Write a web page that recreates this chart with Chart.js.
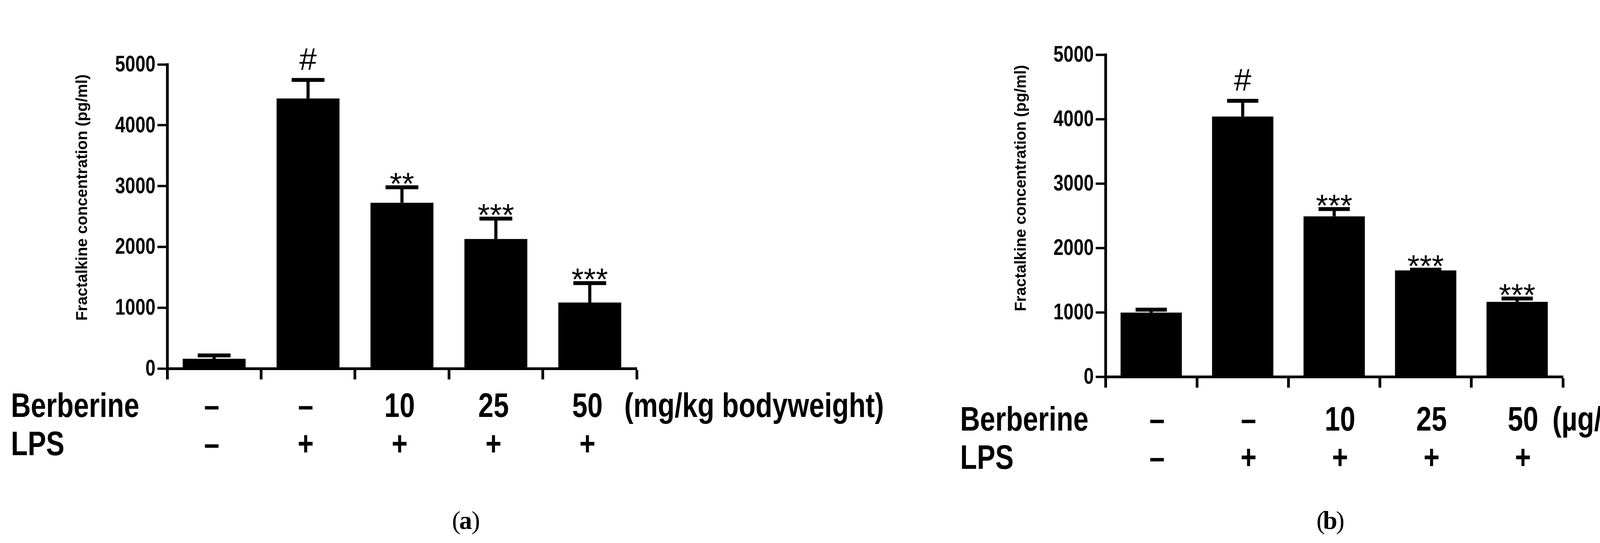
<!DOCTYPE html>
<html><head><meta charset="utf-8">
<script src="https://cdn.jsdelivr.net/npm/chart.js@4"></script>
<style>html,body{margin:0;padding:0;background:#fff;width:4289px;height:1391px;overflow:hidden}
canvas{position:absolute;top:0}</style></head>
<body>
<div id="wa" style="position:absolute;left:0;top:0;width:2400px;height:1391px"><canvas id="ca"></canvas></div>
<div id="wb" style="position:absolute;left:2400px;top:0;width:1889px;height:1391px"><canvas id="cb"></canvas></div>
<script>
const categories = ['Control','LPS','B10','B25','B50'];
const berberineLabels = ['–','–','10','25','50'];
const lpsLabels = ['–','+','+','+','+'];
const yTicks = [0,1000,2000,3000,4000,5000];
const valuesA = [160, 4440, 2725, 2130, 1085];
const errTopA = [240, 4770, 3005, 2490, 1430];
const marksA = ['', '#', '**', '***', '***'];
const unitA = '(mg/kg bodyweight)';
const valuesB = [995, 4040, 2490, 1650, 1162];
const errTopB = [1065, 4308, 2627, 1686, 1238];
const marksB = ['', '#', '***', '***', '***'];
const unitB = '(µg/mL)';
const yTitle = 'Fractalkine concentration (pg/ml)';
const SANS = "'Liberation Sans',Arial";
const SQ = 0.8;

function narrow(c, t, x, y, align){
  c.save(); c.translate(x,y); c.scale(SQ,1); c.textAlign=align; c.fillText(t,0,0); c.restore();
}

function make(id, w, vals, errs, marks, unit, cfg){
  const annot = {
    id:'annot',
    afterDraw(chart){
      const c=chart.ctx, x=chart.scales.x, y=chart.scales.y;
      c.save();
      c.strokeStyle='#000'; c.fillStyle='#000';
      // y tick labels (condensed)
      c.font='bold 58px '+SANS; c.textBaseline='middle';
      yTicks.forEach(v=>narrow(c, String(v), cfg.left-30, y.getPixelForValue(v)+2, 'right'));
      // error bars
      vals.forEach((v,i)=>{
        const px=x.getPixelForValue(i), y0=y.getPixelForValue(v), y1=y.getPixelForValue(errs[i]);
        c.lineWidth=8; c.beginPath(); c.moveTo(px,y0); c.lineTo(px,y1); c.stroke();
        c.lineWidth=10; c.beginPath(); c.moveTo(px-cfg.cap,y1+4); c.lineTo(px+cfg.cap,y1+4); c.stroke();
        if(marks[i]){
          c.font='80px '+SANS; c.textAlign='center'; c.textBaseline='alphabetic';
          c.fillText(marks[i], px, y1 + (marks[i]==='#'?-22:22));
        }
      });
      // rows
      c.font='bold 88px '+SANS; c.textBaseline='middle';
      narrow(c,'Berberine', cfg.rowX, cfg.row1, 'left');
      narrow(c,'LPS', cfg.rowX, cfg.row2, 'left');
      berberineLabels.forEach((t,i)=>narrow(c, t, x.getPixelForValue(i)+cfg.lblOff, cfg.row1, 'center'));
      lpsLabels.forEach((t,i)=>narrow(c, t, x.getPixelForValue(i)+cfg.lblOff, cfg.row2, 'center'));
      narrow(c, unit, cfg.unitX, cfg.row1, 'left');
      // y title
      c.save(); c.translate(cfg.titleX, cfg.titleY); c.rotate(-Math.PI/2);
      c.font='bold 40px '+SANS; c.textAlign='center'; c.textBaseline='middle';
      c.fillText(yTitle,0,0); c.restore();
      // panel label
      c.textBaseline='middle'; c.textAlign='center';
      c.font='66px "Liberation Serif", serif';
      c.fillText(cfg.panel[0], cfg.panelX-24, 1338);
      c.font='bold 66px "Liberation Serif", serif';
      c.fillText(cfg.panel[1], cfg.panelX, 1338);
      c.font='66px "Liberation Serif", serif';
      c.fillText(cfg.panel[2], cfg.panelX+26, 1338);
      c.restore();
    }
  };
  return new Chart(document.getElementById(id), {
    type:'bar',
    data:{labels:categories, datasets:[{data:vals, backgroundColor:'#000', barPercentage:cfg.bp, categoryPercentage:1}]},
    options:{
      responsive:true, maintainAspectRatio:false, animation:false, devicePixelRatio:1,
      layout:{padding:{top:cfg.top, right:w-cfg.right, left:0, bottom:0}},
      plugins:{legend:{display:false}, tooltip:{enabled:false}},
      scales:{
        x:{offset:true, grid:{display:true, drawOnChartArea:false, tickLength:28, tickWidth:7, tickColor:'#000'},
           border:{color:'#000', width:7}, ticks:{display:false},
           afterFit(s){ s.height = 1391 - cfg.zero; }},
        y:{min:0, max:5000, afterBuildTicks(s){ s.ticks = yTicks.map(v=>({value:v})); },
           grid:{display:true, drawOnChartArea:false, tickLength:25, tickWidth:6, tickColor:'#000'},
           border:{color:'#000', width:7},
           ticks:{display:false},
           afterFit(s){ s.width = cfg.left; }}
      }
    },
    plugins:[annot]
  });
}
make('ca', 2400, valuesA, errTopA, marksA, unitA,
  {left:428, right:1630, top:165, zero:944, bp:0.67, cap:42, rowX:28, row1:1044, row2:1142, lblOff:-6, unitX:1598,
   titleX:212, titleY:506, panel:['(','a',')'], panelX:1192});
make('cb', 1889, valuesB, errTopB, marksB, unitB,
  {left:430, right:1601, top:140, zero:965, bp:0.67, cap:40, rowX:58, row1:1079, row2:1177, lblOff:15, unitX:1574,
   titleX:215, titleY:482, panel:['(','b',')'], panelX:1005});
</script></body></html>
